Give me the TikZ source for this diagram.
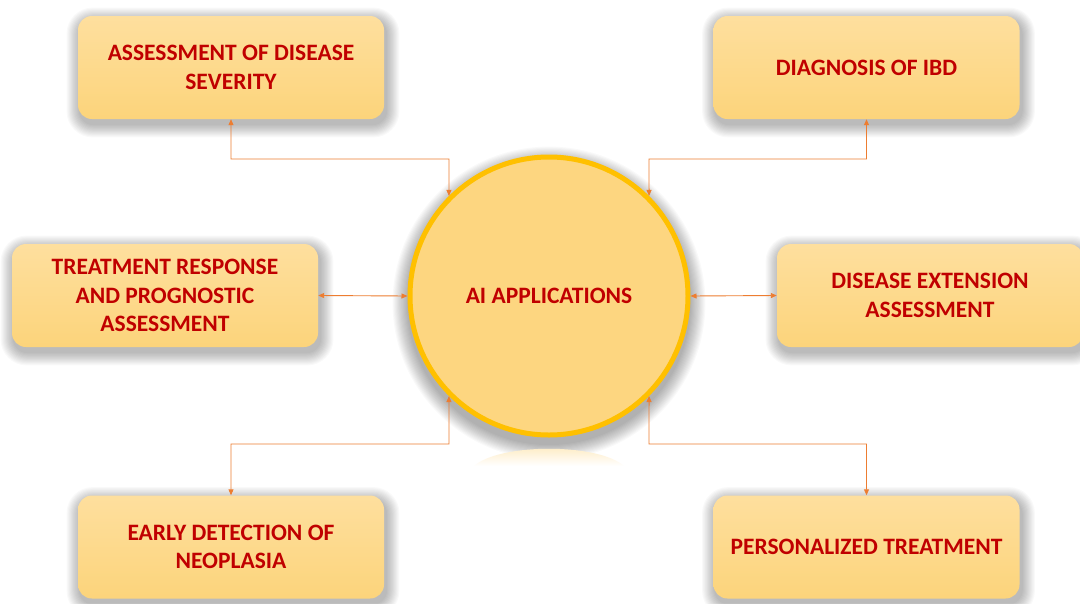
\documentclass[tikz,border=0pt]{standalone}
\usepackage{fontspec}
\setmainfont{Carlito}
\usetikzlibrary{arrows.meta,calc,backgrounds}
\definecolor{txtred}{HTML}{C00000}
\definecolor{boxtop}{HTML}{FEDF9E}
\definecolor{boxbot}{HTML}{FCD47B}
\definecolor{ringcol}{HTML}{FFC000}
\definecolor{discfill}{HTML}{FDD680}
\definecolor{linkcol}{HTML}{ED7D31}
\tikzset{
  topic/.style={rounded corners=14pt, minimum width=306pt, minimum height=103pt,
    top color=boxtop, bottom color=boxbot, draw=none,
    align=center, text=txtred, font=\fontsize{23.5}{28.5}\selectfont\bfseries},
  hub/.style={circle, minimum size=278pt, draw=ringcol, line width=5pt, fill=discfill,
    text=txtred, font=\fontsize{23.5}{28.5}\selectfont\bfseries},
  link/.style={draw=linkcol, line width=0.9pt, {Triangle[length=6pt,width=5pt]}-{Triangle[length=6pt,width=5pt]}},
  haze/.style={fill=black, opacity=0.022}
}
\begin{document}
\begin{tikzpicture}[x=1pt,y=-1pt]
\useasboundingbox (0,0) rectangle (1080,603);

\node[hub] (c) at (549,296) {AI APPLICATIONS};

\node[topic] (tl) at (231,67.5) {ASSESSMENT OF DISEASE\\SEVERITY};
\node[topic] (tr) at (866.5,67.5) {DIAGNOSIS OF IBD};
\node[topic] (ml) at (165,295.5) {TREATMENT RESPONSE\\AND PROGNOSTIC\\ASSESSMENT};
\node[topic] (mr) at (930,295.5) {DISEASE EXTENSION\\ASSESSMENT};
\node[topic] (bl) at (231,547) {EARLY DETECTION OF\\NEOPLASIA};
\node[topic] (br) at (866.5,547) {PERSONALIZED TREATMENT};

% page colour and soft drop shadows, built from stacked translucent layers
\begin{scope}[on background layer]
  \fill[white] (0,0) rectangle (1080,603);
  \foreach \n in {tl,tr,ml,mr,bl,br}{
    \foreach \i in {1,...,12}{
      \fill[haze, rounded corners={14pt+\i pt}]
        ($(\n.north west)+(-\i*1.1+2,-\i*1.1+5)$) rectangle ($(\n.south east)+(\i*1.1+2,\i*1.1+5)$);
    }
  }
  \foreach \i in {1,...,14}{
    \fill[haze] ($(c.center)+(0,7)$) circle ({141pt+\i*1.1pt});
  }
  % faint reflection below the hub
  \shade[top color=discfill!55!white, bottom color=white]
    (474,466) .. controls (500,443) and (598,443) .. (624,466) -- cycle;
\end{scope}

% bend points of the elbow connectors
\coordinate (ktl) at (449,159);
\coordinate (ktr) at (649,159);
\coordinate (kbl) at (449,444);
\coordinate (kbr) at (649,444);

\draw[link] (tl.south) |- (ktl) -- (c.135);
\draw[link] (tr.south) |- (ktr) -- (c.45);
\draw[link] (bl.north) |- (kbl) -- (c.225);
\draw[link] (br.north) |- (kbr) -- (c.315);
\draw[link] (ml.east) -- (c.west);
\draw[link] (mr.west) -- (c.east);
\end{tikzpicture}
\end{document}
